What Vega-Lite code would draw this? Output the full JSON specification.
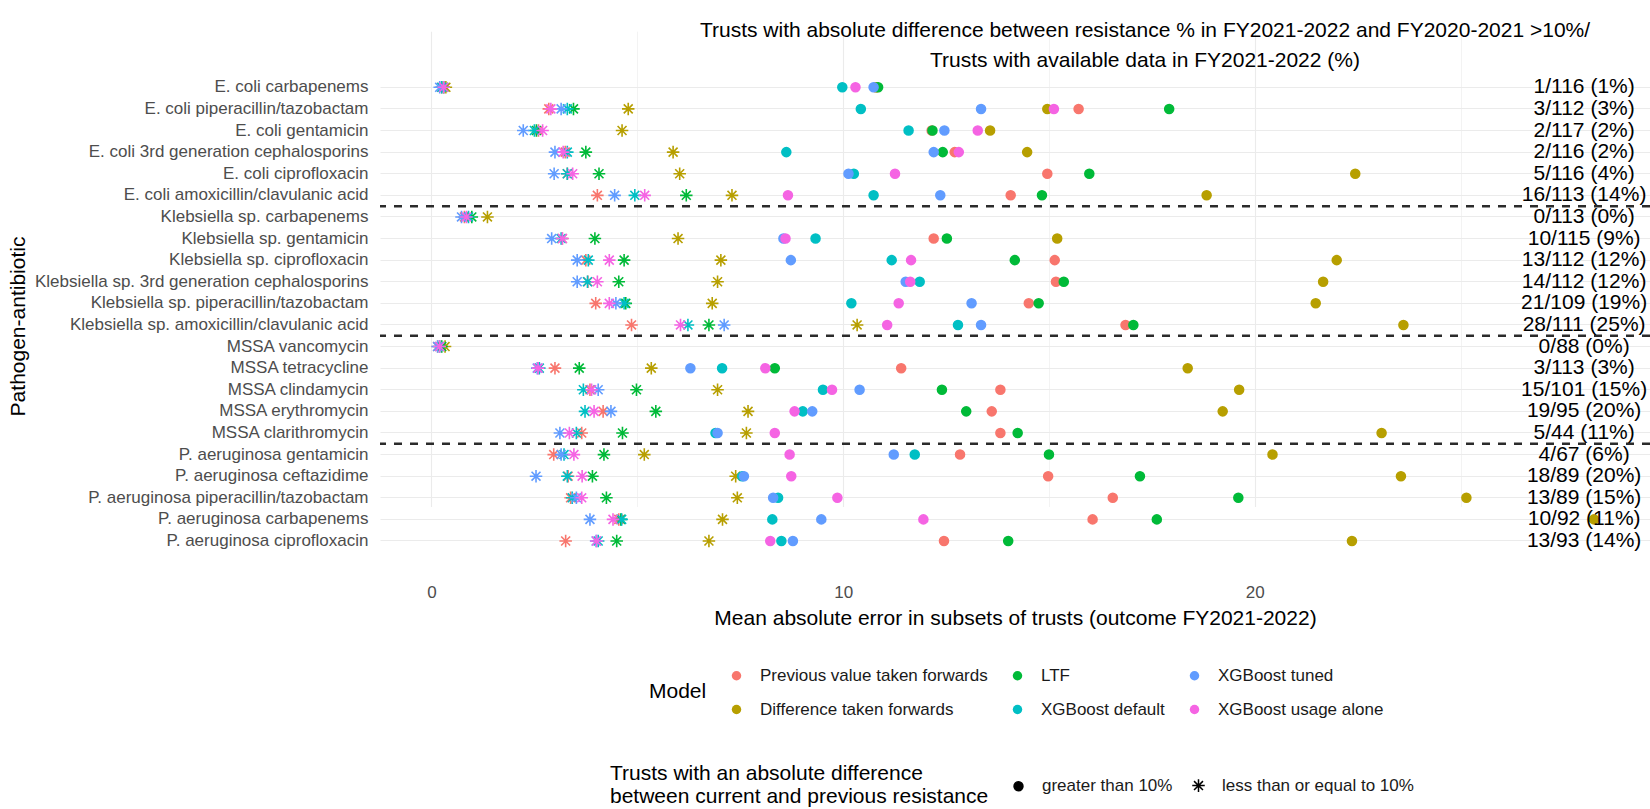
{
  "$schema": "https://vega.github.io/schema/vega-lite/v6.json",
  "width": 1270,
  "height": 563,
  "autosize": {"type": "none"},
  "padding": {"left": 380, "top": 10, "right": 0, "bottom": 236},
  "background": "white",
  "config": {
    "font": "Liberation Sans",
    "view": {"stroke": null},
    "axis": {"titleFontWeight": "normal", "titleColor": "#000000", "labelColor": "#4D4D4D"},
    "legend": {"titleFontWeight": "normal", "titleColor": "#000000", "labelColor": "#1A1A1A", "labelLimit": 400, "titleLimit": 500}
  },
  "title": {
    "text": ["Trusts with absolute difference between resistance % in FY2021-2022 and FY2020-2021 >10%/", "Trusts with available data in FY2021-2022 (%)"],
    "fontSize": 21,
    "fontWeight": "normal",
    "color": "#000000",
    "anchor": "middle",
    "frame": "group",
    "orient": "top",
    "baseline": "top",
    "offset": 0,
    "dx": 130,
    "dy": 61,
    "lineHeight": 30,
    "align": "center",
    "limit": 1200
  },
  "datasets": {
    "seps": [
      {"pa": "E. coli amoxicillin/clavulanic acid"},
      {"pa": "Klebsiella sp. amoxicillin/clavulanic acid"},
      {"pa": "MSSA clarithromycin"}
    ],
    "labels": [
      {"pa": "E. coli carbapenems", "label": "1/116 (1%)"},
      {"pa": "E. coli piperacillin/tazobactam", "label": "3/112 (3%)"},
      {"pa": "E. coli gentamicin", "label": "2/117 (2%)"},
      {"pa": "E. coli 3rd generation cephalosporins", "label": "2/116 (2%)"},
      {"pa": "E. coli ciprofloxacin", "label": "5/116 (4%)"},
      {"pa": "E. coli amoxicillin/clavulanic acid", "label": "16/113 (14%)"},
      {"pa": "Klebsiella sp. carbapenems", "label": "0/113 (0%)"},
      {"pa": "Klebsiella sp. gentamicin", "label": "10/115 (9%)"},
      {"pa": "Klebsiella sp. ciprofloxacin", "label": "13/112 (12%)"},
      {"pa": "Klebsiella sp. 3rd generation cephalosporins", "label": "14/112 (12%)"},
      {"pa": "Klebsiella sp. piperacillin/tazobactam", "label": "21/109 (19%)"},
      {"pa": "Klebsiella sp. amoxicillin/clavulanic acid", "label": "28/111 (25%)"},
      {"pa": "MSSA vancomycin", "label": "0/88 (0%)"},
      {"pa": "MSSA tetracycline", "label": "3/113 (3%)"},
      {"pa": "MSSA clindamycin", "label": "15/101 (15%)"},
      {"pa": "MSSA erythromycin", "label": "19/95 (20%)"},
      {"pa": "MSSA clarithromycin", "label": "5/44 (11%)"},
      {"pa": "P. aeruginosa gentamicin", "label": "4/67 (6%)"},
      {"pa": "P. aeruginosa ceftazidime", "label": "18/89 (20%)"},
      {"pa": "P. aeruginosa piperacillin/tazobactam", "label": "13/89 (15%)"},
      {"pa": "P. aeruginosa carbapenems", "label": "10/92 (11%)"},
      {"pa": "P. aeruginosa ciprofloxacin", "label": "13/93 (14%)"}
    ],
    "points": [
      {"pa": "E. coli carbapenems", "model": "Previous value taken forwards", "subset": "less than or equal to 10%", "mae": 0.25},
      {"pa": "E. coli carbapenems", "model": "Difference taken forwards", "subset": "less than or equal to 10%", "mae": 0.35},
      {"pa": "E. coli carbapenems", "model": "LTF", "subset": "less than or equal to 10%", "mae": 0.3},
      {"pa": "E. coli carbapenems", "model": "XGBoost default", "subset": "less than or equal to 10%", "mae": 0.25},
      {"pa": "E. coli carbapenems", "model": "XGBoost tuned", "subset": "less than or equal to 10%", "mae": 0.2},
      {"pa": "E. coli carbapenems", "model": "XGBoost usage alone", "subset": "less than or equal to 10%", "mae": 0.3},
      {"pa": "E. coli carbapenems", "model": "Previous value taken forwards", "subset": "greater than 10%", "mae": 10.8},
      {"pa": "E. coli carbapenems", "model": "Difference taken forwards", "subset": "greater than 10%", "mae": 10.8},
      {"pa": "E. coli carbapenems", "model": "LTF", "subset": "greater than 10%", "mae": 10.85},
      {"pa": "E. coli carbapenems", "model": "XGBoost default", "subset": "greater than 10%", "mae": 9.98},
      {"pa": "E. coli carbapenems", "model": "XGBoost tuned", "subset": "greater than 10%", "mae": 10.74},
      {"pa": "E. coli carbapenems", "model": "XGBoost usage alone", "subset": "greater than 10%", "mae": 10.3},

      {"pa": "E. coli piperacillin/tazobactam", "model": "Previous value taken forwards", "subset": "less than or equal to 10%", "mae": 2.85},
      {"pa": "E. coli piperacillin/tazobactam", "model": "Difference taken forwards", "subset": "less than or equal to 10%", "mae": 4.78},
      {"pa": "E. coli piperacillin/tazobactam", "model": "LTF", "subset": "less than or equal to 10%", "mae": 3.45},
      {"pa": "E. coli piperacillin/tazobactam", "model": "XGBoost default", "subset": "less than or equal to 10%", "mae": 3.3},
      {"pa": "E. coli piperacillin/tazobactam", "model": "XGBoost tuned", "subset": "less than or equal to 10%", "mae": 3.15},
      {"pa": "E. coli piperacillin/tazobactam", "model": "XGBoost usage alone", "subset": "less than or equal to 10%", "mae": 2.9},
      {"pa": "E. coli piperacillin/tazobactam", "model": "Previous value taken forwards", "subset": "greater than 10%", "mae": 15.72},
      {"pa": "E. coli piperacillin/tazobactam", "model": "Difference taken forwards", "subset": "greater than 10%", "mae": 14.96},
      {"pa": "E. coli piperacillin/tazobactam", "model": "LTF", "subset": "greater than 10%", "mae": 17.92},
      {"pa": "E. coli piperacillin/tazobactam", "model": "XGBoost default", "subset": "greater than 10%", "mae": 10.43},
      {"pa": "E. coli piperacillin/tazobactam", "model": "XGBoost tuned", "subset": "greater than 10%", "mae": 13.35},
      {"pa": "E. coli piperacillin/tazobactam", "model": "XGBoost usage alone", "subset": "greater than 10%", "mae": 15.12},

      {"pa": "E. coli gentamicin", "model": "Previous value taken forwards", "subset": "less than or equal to 10%", "mae": 2.6},
      {"pa": "E. coli gentamicin", "model": "Difference taken forwards", "subset": "less than or equal to 10%", "mae": 4.63},
      {"pa": "E. coli gentamicin", "model": "LTF", "subset": "less than or equal to 10%", "mae": 2.55},
      {"pa": "E. coli gentamicin", "model": "XGBoost default", "subset": "less than or equal to 10%", "mae": 2.5},
      {"pa": "E. coli gentamicin", "model": "XGBoost tuned", "subset": "less than or equal to 10%", "mae": 2.23},
      {"pa": "E. coli gentamicin", "model": "XGBoost usage alone", "subset": "less than or equal to 10%", "mae": 2.7},
      {"pa": "E. coli gentamicin", "model": "Previous value taken forwards", "subset": "greater than 10%", "mae": 12.15},
      {"pa": "E. coli gentamicin", "model": "Difference taken forwards", "subset": "greater than 10%", "mae": 13.57},
      {"pa": "E. coli gentamicin", "model": "LTF", "subset": "greater than 10%", "mae": 12.17},
      {"pa": "E. coli gentamicin", "model": "XGBoost default", "subset": "greater than 10%", "mae": 11.59},
      {"pa": "E. coli gentamicin", "model": "XGBoost tuned", "subset": "greater than 10%", "mae": 12.46},
      {"pa": "E. coli gentamicin", "model": "XGBoost usage alone", "subset": "greater than 10%", "mae": 13.27},

      {"pa": "E. coli 3rd generation cephalosporins", "model": "Previous value taken forwards", "subset": "less than or equal to 10%", "mae": 3.25},
      {"pa": "E. coli 3rd generation cephalosporins", "model": "Difference taken forwards", "subset": "less than or equal to 10%", "mae": 5.87},
      {"pa": "E. coli 3rd generation cephalosporins", "model": "LTF", "subset": "less than or equal to 10%", "mae": 3.75},
      {"pa": "E. coli 3rd generation cephalosporins", "model": "XGBoost default", "subset": "less than or equal to 10%", "mae": 3.3},
      {"pa": "E. coli 3rd generation cephalosporins", "model": "XGBoost tuned", "subset": "less than or equal to 10%", "mae": 3.0},
      {"pa": "E. coli 3rd generation cephalosporins", "model": "XGBoost usage alone", "subset": "less than or equal to 10%", "mae": 3.2},
      {"pa": "E. coli 3rd generation cephalosporins", "model": "Previous value taken forwards", "subset": "greater than 10%", "mae": 12.71},
      {"pa": "E. coli 3rd generation cephalosporins", "model": "Difference taken forwards", "subset": "greater than 10%", "mae": 14.47},
      {"pa": "E. coli 3rd generation cephalosporins", "model": "LTF", "subset": "greater than 10%", "mae": 12.42},
      {"pa": "E. coli 3rd generation cephalosporins", "model": "XGBoost default", "subset": "greater than 10%", "mae": 8.62},
      {"pa": "E. coli 3rd generation cephalosporins", "model": "XGBoost tuned", "subset": "greater than 10%", "mae": 12.2},
      {"pa": "E. coli 3rd generation cephalosporins", "model": "XGBoost usage alone", "subset": "greater than 10%", "mae": 12.81},

      {"pa": "E. coli ciprofloxacin", "model": "Previous value taken forwards", "subset": "less than or equal to 10%", "mae": 3.3},
      {"pa": "E. coli ciprofloxacin", "model": "Difference taken forwards", "subset": "less than or equal to 10%", "mae": 6.03},
      {"pa": "E. coli ciprofloxacin", "model": "LTF", "subset": "less than or equal to 10%", "mae": 4.07},
      {"pa": "E. coli ciprofloxacin", "model": "XGBoost default", "subset": "less than or equal to 10%", "mae": 3.3},
      {"pa": "E. coli ciprofloxacin", "model": "XGBoost tuned", "subset": "less than or equal to 10%", "mae": 2.98},
      {"pa": "E. coli ciprofloxacin", "model": "XGBoost usage alone", "subset": "less than or equal to 10%", "mae": 3.43},
      {"pa": "E. coli ciprofloxacin", "model": "Previous value taken forwards", "subset": "greater than 10%", "mae": 14.96},
      {"pa": "E. coli ciprofloxacin", "model": "Difference taken forwards", "subset": "greater than 10%", "mae": 22.44},
      {"pa": "E. coli ciprofloxacin", "model": "LTF", "subset": "greater than 10%", "mae": 15.98},
      {"pa": "E. coli ciprofloxacin", "model": "XGBoost default", "subset": "greater than 10%", "mae": 10.26},
      {"pa": "E. coli ciprofloxacin", "model": "XGBoost tuned", "subset": "greater than 10%", "mae": 10.13},
      {"pa": "E. coli ciprofloxacin", "model": "XGBoost usage alone", "subset": "greater than 10%", "mae": 11.26},

      {"pa": "E. coli amoxicillin/clavulanic acid", "model": "Previous value taken forwards", "subset": "less than or equal to 10%", "mae": 4.03},
      {"pa": "E. coli amoxicillin/clavulanic acid", "model": "Difference taken forwards", "subset": "less than or equal to 10%", "mae": 7.3},
      {"pa": "E. coli amoxicillin/clavulanic acid", "model": "LTF", "subset": "less than or equal to 10%", "mae": 6.19},
      {"pa": "E. coli amoxicillin/clavulanic acid", "model": "XGBoost default", "subset": "less than or equal to 10%", "mae": 4.94},
      {"pa": "E. coli amoxicillin/clavulanic acid", "model": "XGBoost tuned", "subset": "less than or equal to 10%", "mae": 4.45},
      {"pa": "E. coli amoxicillin/clavulanic acid", "model": "XGBoost usage alone", "subset": "less than or equal to 10%", "mae": 5.18},
      {"pa": "E. coli amoxicillin/clavulanic acid", "model": "Previous value taken forwards", "subset": "greater than 10%", "mae": 14.07},
      {"pa": "E. coli amoxicillin/clavulanic acid", "model": "Difference taken forwards", "subset": "greater than 10%", "mae": 18.83},
      {"pa": "E. coli amoxicillin/clavulanic acid", "model": "LTF", "subset": "greater than 10%", "mae": 14.83},
      {"pa": "E. coli amoxicillin/clavulanic acid", "model": "XGBoost default", "subset": "greater than 10%", "mae": 10.74},
      {"pa": "E. coli amoxicillin/clavulanic acid", "model": "XGBoost tuned", "subset": "greater than 10%", "mae": 12.36},
      {"pa": "E. coli amoxicillin/clavulanic acid", "model": "XGBoost usage alone", "subset": "greater than 10%", "mae": 8.66},

      {"pa": "Klebsiella sp. carbapenems", "model": "Previous value taken forwards", "subset": "less than or equal to 10%", "mae": 0.8},
      {"pa": "Klebsiella sp. carbapenems", "model": "Difference taken forwards", "subset": "less than or equal to 10%", "mae": 1.36},
      {"pa": "Klebsiella sp. carbapenems", "model": "LTF", "subset": "less than or equal to 10%", "mae": 0.98},
      {"pa": "Klebsiella sp. carbapenems", "model": "XGBoost default", "subset": "less than or equal to 10%", "mae": 0.9},
      {"pa": "Klebsiella sp. carbapenems", "model": "XGBoost tuned", "subset": "less than or equal to 10%", "mae": 0.73},
      {"pa": "Klebsiella sp. carbapenems", "model": "XGBoost usage alone", "subset": "less than or equal to 10%", "mae": 0.85},

      {"pa": "Klebsiella sp. gentamicin", "model": "Previous value taken forwards", "subset": "less than or equal to 10%", "mae": 3.18},
      {"pa": "Klebsiella sp. gentamicin", "model": "Difference taken forwards", "subset": "less than or equal to 10%", "mae": 5.99},
      {"pa": "Klebsiella sp. gentamicin", "model": "LTF", "subset": "less than or equal to 10%", "mae": 3.97},
      {"pa": "Klebsiella sp. gentamicin", "model": "XGBoost default", "subset": "less than or equal to 10%", "mae": 3.15},
      {"pa": "Klebsiella sp. gentamicin", "model": "XGBoost tuned", "subset": "less than or equal to 10%", "mae": 2.92},
      {"pa": "Klebsiella sp. gentamicin", "model": "XGBoost usage alone", "subset": "less than or equal to 10%", "mae": 3.18},
      {"pa": "Klebsiella sp. gentamicin", "model": "Previous value taken forwards", "subset": "greater than 10%", "mae": 12.2},
      {"pa": "Klebsiella sp. gentamicin", "model": "Difference taken forwards", "subset": "greater than 10%", "mae": 15.2},
      {"pa": "Klebsiella sp. gentamicin", "model": "LTF", "subset": "greater than 10%", "mae": 12.52},
      {"pa": "Klebsiella sp. gentamicin", "model": "XGBoost default", "subset": "greater than 10%", "mae": 9.33},
      {"pa": "Klebsiella sp. gentamicin", "model": "XGBoost tuned", "subset": "greater than 10%", "mae": 8.55},
      {"pa": "Klebsiella sp. gentamicin", "model": "XGBoost usage alone", "subset": "greater than 10%", "mae": 8.6},

      {"pa": "Klebsiella sp. ciprofloxacin", "model": "Previous value taken forwards", "subset": "less than or equal to 10%", "mae": 3.75},
      {"pa": "Klebsiella sp. ciprofloxacin", "model": "Difference taken forwards", "subset": "less than or equal to 10%", "mae": 7.03},
      {"pa": "Klebsiella sp. ciprofloxacin", "model": "LTF", "subset": "less than or equal to 10%", "mae": 4.68},
      {"pa": "Klebsiella sp. ciprofloxacin", "model": "XGBoost default", "subset": "less than or equal to 10%", "mae": 3.81},
      {"pa": "Klebsiella sp. ciprofloxacin", "model": "XGBoost tuned", "subset": "less than or equal to 10%", "mae": 3.54},
      {"pa": "Klebsiella sp. ciprofloxacin", "model": "XGBoost usage alone", "subset": "less than or equal to 10%", "mae": 4.32},
      {"pa": "Klebsiella sp. ciprofloxacin", "model": "Previous value taken forwards", "subset": "greater than 10%", "mae": 15.14},
      {"pa": "Klebsiella sp. ciprofloxacin", "model": "Difference taken forwards", "subset": "greater than 10%", "mae": 21.99},
      {"pa": "Klebsiella sp. ciprofloxacin", "model": "LTF", "subset": "greater than 10%", "mae": 14.17},
      {"pa": "Klebsiella sp. ciprofloxacin", "model": "XGBoost default", "subset": "greater than 10%", "mae": 11.18},
      {"pa": "Klebsiella sp. ciprofloxacin", "model": "XGBoost tuned", "subset": "greater than 10%", "mae": 8.73},
      {"pa": "Klebsiella sp. ciprofloxacin", "model": "XGBoost usage alone", "subset": "greater than 10%", "mae": 11.65},

      {"pa": "Klebsiella sp. 3rd generation cephalosporins", "model": "Previous value taken forwards", "subset": "less than or equal to 10%", "mae": 3.8},
      {"pa": "Klebsiella sp. 3rd generation cephalosporins", "model": "Difference taken forwards", "subset": "less than or equal to 10%", "mae": 6.95},
      {"pa": "Klebsiella sp. 3rd generation cephalosporins", "model": "LTF", "subset": "less than or equal to 10%", "mae": 4.55},
      {"pa": "Klebsiella sp. 3rd generation cephalosporins", "model": "XGBoost default", "subset": "less than or equal to 10%", "mae": 3.79},
      {"pa": "Klebsiella sp. 3rd generation cephalosporins", "model": "XGBoost tuned", "subset": "less than or equal to 10%", "mae": 3.54},
      {"pa": "Klebsiella sp. 3rd generation cephalosporins", "model": "XGBoost usage alone", "subset": "less than or equal to 10%", "mae": 4.03},
      {"pa": "Klebsiella sp. 3rd generation cephalosporins", "model": "Previous value taken forwards", "subset": "greater than 10%", "mae": 15.17},
      {"pa": "Klebsiella sp. 3rd generation cephalosporins", "model": "Difference taken forwards", "subset": "greater than 10%", "mae": 21.66},
      {"pa": "Klebsiella sp. 3rd generation cephalosporins", "model": "LTF", "subset": "greater than 10%", "mae": 15.36},
      {"pa": "Klebsiella sp. 3rd generation cephalosporins", "model": "XGBoost default", "subset": "greater than 10%", "mae": 11.86},
      {"pa": "Klebsiella sp. 3rd generation cephalosporins", "model": "XGBoost tuned", "subset": "greater than 10%", "mae": 11.52},
      {"pa": "Klebsiella sp. 3rd generation cephalosporins", "model": "XGBoost usage alone", "subset": "greater than 10%", "mae": 11.63},

      {"pa": "Klebsiella sp. piperacillin/tazobactam", "model": "Previous value taken forwards", "subset": "less than or equal to 10%", "mae": 3.99},
      {"pa": "Klebsiella sp. piperacillin/tazobactam", "model": "Difference taken forwards", "subset": "less than or equal to 10%", "mae": 6.82},
      {"pa": "Klebsiella sp. piperacillin/tazobactam", "model": "LTF", "subset": "less than or equal to 10%", "mae": 4.72},
      {"pa": "Klebsiella sp. piperacillin/tazobactam", "model": "XGBoost default", "subset": "less than or equal to 10%", "mae": 4.68},
      {"pa": "Klebsiella sp. piperacillin/tazobactam", "model": "XGBoost tuned", "subset": "less than or equal to 10%", "mae": 4.48},
      {"pa": "Klebsiella sp. piperacillin/tazobactam", "model": "XGBoost usage alone", "subset": "less than or equal to 10%", "mae": 4.32},
      {"pa": "Klebsiella sp. piperacillin/tazobactam", "model": "Previous value taken forwards", "subset": "greater than 10%", "mae": 14.51},
      {"pa": "Klebsiella sp. piperacillin/tazobactam", "model": "Difference taken forwards", "subset": "greater than 10%", "mae": 21.48},
      {"pa": "Klebsiella sp. piperacillin/tazobactam", "model": "LTF", "subset": "greater than 10%", "mae": 14.75},
      {"pa": "Klebsiella sp. piperacillin/tazobactam", "model": "XGBoost default", "subset": "greater than 10%", "mae": 10.2},
      {"pa": "Klebsiella sp. piperacillin/tazobactam", "model": "XGBoost tuned", "subset": "greater than 10%", "mae": 13.12},
      {"pa": "Klebsiella sp. piperacillin/tazobactam", "model": "XGBoost usage alone", "subset": "greater than 10%", "mae": 11.35},

      {"pa": "Klebsiella sp. amoxicillin/clavulanic acid", "model": "Previous value taken forwards", "subset": "less than or equal to 10%", "mae": 4.86},
      {"pa": "Klebsiella sp. amoxicillin/clavulanic acid", "model": "Difference taken forwards", "subset": "less than or equal to 10%", "mae": 10.34},
      {"pa": "Klebsiella sp. amoxicillin/clavulanic acid", "model": "LTF", "subset": "less than or equal to 10%", "mae": 6.74},
      {"pa": "Klebsiella sp. amoxicillin/clavulanic acid", "model": "XGBoost default", "subset": "less than or equal to 10%", "mae": 6.23},
      {"pa": "Klebsiella sp. amoxicillin/clavulanic acid", "model": "XGBoost tuned", "subset": "less than or equal to 10%", "mae": 7.11},
      {"pa": "Klebsiella sp. amoxicillin/clavulanic acid", "model": "XGBoost usage alone", "subset": "less than or equal to 10%", "mae": 6.05},
      {"pa": "Klebsiella sp. amoxicillin/clavulanic acid", "model": "Previous value taken forwards", "subset": "greater than 10%", "mae": 16.86},
      {"pa": "Klebsiella sp. amoxicillin/clavulanic acid", "model": "Difference taken forwards", "subset": "greater than 10%", "mae": 23.61},
      {"pa": "Klebsiella sp. amoxicillin/clavulanic acid", "model": "LTF", "subset": "greater than 10%", "mae": 17.05},
      {"pa": "Klebsiella sp. amoxicillin/clavulanic acid", "model": "XGBoost default", "subset": "greater than 10%", "mae": 12.79},
      {"pa": "Klebsiella sp. amoxicillin/clavulanic acid", "model": "XGBoost tuned", "subset": "greater than 10%", "mae": 13.35},
      {"pa": "Klebsiella sp. amoxicillin/clavulanic acid", "model": "XGBoost usage alone", "subset": "greater than 10%", "mae": 11.07},

      {"pa": "MSSA vancomycin", "model": "Previous value taken forwards", "subset": "less than or equal to 10%", "mae": 0.15},
      {"pa": "MSSA vancomycin", "model": "Difference taken forwards", "subset": "less than or equal to 10%", "mae": 0.33},
      {"pa": "MSSA vancomycin", "model": "LTF", "subset": "less than or equal to 10%", "mae": 0.25},
      {"pa": "MSSA vancomycin", "model": "XGBoost default", "subset": "less than or equal to 10%", "mae": 0.2},
      {"pa": "MSSA vancomycin", "model": "XGBoost tuned", "subset": "less than or equal to 10%", "mae": 0.15},
      {"pa": "MSSA vancomycin", "model": "XGBoost usage alone", "subset": "less than or equal to 10%", "mae": 0.2},

      {"pa": "MSSA tetracycline", "model": "Previous value taken forwards", "subset": "less than or equal to 10%", "mae": 3.0},
      {"pa": "MSSA tetracycline", "model": "Difference taken forwards", "subset": "less than or equal to 10%", "mae": 5.34},
      {"pa": "MSSA tetracycline", "model": "LTF", "subset": "less than or equal to 10%", "mae": 3.59},
      {"pa": "MSSA tetracycline", "model": "XGBoost default", "subset": "less than or equal to 10%", "mae": 2.62},
      {"pa": "MSSA tetracycline", "model": "XGBoost tuned", "subset": "less than or equal to 10%", "mae": 2.57},
      {"pa": "MSSA tetracycline", "model": "XGBoost usage alone", "subset": "less than or equal to 10%", "mae": 2.59},
      {"pa": "MSSA tetracycline", "model": "Previous value taken forwards", "subset": "greater than 10%", "mae": 11.41},
      {"pa": "MSSA tetracycline", "model": "Difference taken forwards", "subset": "greater than 10%", "mae": 18.37},
      {"pa": "MSSA tetracycline", "model": "LTF", "subset": "greater than 10%", "mae": 8.34},
      {"pa": "MSSA tetracycline", "model": "XGBoost default", "subset": "greater than 10%", "mae": 7.06},
      {"pa": "MSSA tetracycline", "model": "XGBoost tuned", "subset": "greater than 10%", "mae": 6.29},
      {"pa": "MSSA tetracycline", "model": "XGBoost usage alone", "subset": "greater than 10%", "mae": 8.11},

      {"pa": "MSSA clindamycin", "model": "Previous value taken forwards", "subset": "less than or equal to 10%", "mae": 3.85},
      {"pa": "MSSA clindamycin", "model": "Difference taken forwards", "subset": "less than or equal to 10%", "mae": 6.95},
      {"pa": "MSSA clindamycin", "model": "LTF", "subset": "less than or equal to 10%", "mae": 4.98},
      {"pa": "MSSA clindamycin", "model": "XGBoost default", "subset": "less than or equal to 10%", "mae": 3.69},
      {"pa": "MSSA clindamycin", "model": "XGBoost tuned", "subset": "less than or equal to 10%", "mae": 4.05},
      {"pa": "MSSA clindamycin", "model": "XGBoost usage alone", "subset": "less than or equal to 10%", "mae": 3.89},
      {"pa": "MSSA clindamycin", "model": "Previous value taken forwards", "subset": "greater than 10%", "mae": 13.82},
      {"pa": "MSSA clindamycin", "model": "Difference taken forwards", "subset": "greater than 10%", "mae": 19.62},
      {"pa": "MSSA clindamycin", "model": "LTF", "subset": "greater than 10%", "mae": 12.4},
      {"pa": "MSSA clindamycin", "model": "XGBoost default", "subset": "greater than 10%", "mae": 9.51},
      {"pa": "MSSA clindamycin", "model": "XGBoost tuned", "subset": "greater than 10%", "mae": 10.4},
      {"pa": "MSSA clindamycin", "model": "XGBoost usage alone", "subset": "greater than 10%", "mae": 9.73},

      {"pa": "MSSA erythromycin", "model": "Previous value taken forwards", "subset": "less than or equal to 10%", "mae": 4.17},
      {"pa": "MSSA erythromycin", "model": "Difference taken forwards", "subset": "less than or equal to 10%", "mae": 7.69},
      {"pa": "MSSA erythromycin", "model": "LTF", "subset": "less than or equal to 10%", "mae": 5.45},
      {"pa": "MSSA erythromycin", "model": "XGBoost default", "subset": "less than or equal to 10%", "mae": 3.73},
      {"pa": "MSSA erythromycin", "model": "XGBoost tuned", "subset": "less than or equal to 10%", "mae": 4.36},
      {"pa": "MSSA erythromycin", "model": "XGBoost usage alone", "subset": "less than or equal to 10%", "mae": 3.95},
      {"pa": "MSSA erythromycin", "model": "Previous value taken forwards", "subset": "greater than 10%", "mae": 13.61},
      {"pa": "MSSA erythromycin", "model": "Difference taken forwards", "subset": "greater than 10%", "mae": 19.22},
      {"pa": "MSSA erythromycin", "model": "LTF", "subset": "greater than 10%", "mae": 12.99},
      {"pa": "MSSA erythromycin", "model": "XGBoost default", "subset": "greater than 10%", "mae": 9.02},
      {"pa": "MSSA erythromycin", "model": "XGBoost tuned", "subset": "greater than 10%", "mae": 9.25},
      {"pa": "MSSA erythromycin", "model": "XGBoost usage alone", "subset": "greater than 10%", "mae": 8.82},

      {"pa": "MSSA clarithromycin", "model": "Previous value taken forwards", "subset": "less than or equal to 10%", "mae": 3.65},
      {"pa": "MSSA clarithromycin", "model": "Difference taken forwards", "subset": "less than or equal to 10%", "mae": 7.65},
      {"pa": "MSSA clarithromycin", "model": "LTF", "subset": "less than or equal to 10%", "mae": 4.64},
      {"pa": "MSSA clarithromycin", "model": "XGBoost default", "subset": "less than or equal to 10%", "mae": 3.52},
      {"pa": "MSSA clarithromycin", "model": "XGBoost tuned", "subset": "less than or equal to 10%", "mae": 3.12},
      {"pa": "MSSA clarithromycin", "model": "XGBoost usage alone", "subset": "less than or equal to 10%", "mae": 3.35},
      {"pa": "MSSA clarithromycin", "model": "Previous value taken forwards", "subset": "greater than 10%", "mae": 13.82},
      {"pa": "MSSA clarithromycin", "model": "Difference taken forwards", "subset": "greater than 10%", "mae": 23.08},
      {"pa": "MSSA clarithromycin", "model": "LTF", "subset": "greater than 10%", "mae": 14.24},
      {"pa": "MSSA clarithromycin", "model": "XGBoost default", "subset": "greater than 10%", "mae": 6.9},
      {"pa": "MSSA clarithromycin", "model": "XGBoost tuned", "subset": "greater than 10%", "mae": 6.95},
      {"pa": "MSSA clarithromycin", "model": "XGBoost usage alone", "subset": "greater than 10%", "mae": 8.34},

      {"pa": "P. aeruginosa gentamicin", "model": "Previous value taken forwards", "subset": "less than or equal to 10%", "mae": 2.97},
      {"pa": "P. aeruginosa gentamicin", "model": "Difference taken forwards", "subset": "less than or equal to 10%", "mae": 5.17},
      {"pa": "P. aeruginosa gentamicin", "model": "LTF", "subset": "less than or equal to 10%", "mae": 4.19},
      {"pa": "P. aeruginosa gentamicin", "model": "XGBoost default", "subset": "less than or equal to 10%", "mae": 3.22},
      {"pa": "P. aeruginosa gentamicin", "model": "XGBoost tuned", "subset": "less than or equal to 10%", "mae": 3.15},
      {"pa": "P. aeruginosa gentamicin", "model": "XGBoost usage alone", "subset": "less than or equal to 10%", "mae": 3.46},
      {"pa": "P. aeruginosa gentamicin", "model": "Previous value taken forwards", "subset": "greater than 10%", "mae": 12.84},
      {"pa": "P. aeruginosa gentamicin", "model": "Difference taken forwards", "subset": "greater than 10%", "mae": 20.43},
      {"pa": "P. aeruginosa gentamicin", "model": "LTF", "subset": "greater than 10%", "mae": 15.0},
      {"pa": "P. aeruginosa gentamicin", "model": "XGBoost default", "subset": "greater than 10%", "mae": 11.74},
      {"pa": "P. aeruginosa gentamicin", "model": "XGBoost tuned", "subset": "greater than 10%", "mae": 11.23},
      {"pa": "P. aeruginosa gentamicin", "model": "XGBoost usage alone", "subset": "greater than 10%", "mae": 8.7},

      {"pa": "P. aeruginosa ceftazidime", "model": "Previous value taken forwards", "subset": "less than or equal to 10%", "mae": 3.32},
      {"pa": "P. aeruginosa ceftazidime", "model": "Difference taken forwards", "subset": "less than or equal to 10%", "mae": 7.39},
      {"pa": "P. aeruginosa ceftazidime", "model": "LTF", "subset": "less than or equal to 10%", "mae": 3.91},
      {"pa": "P. aeruginosa ceftazidime", "model": "XGBoost default", "subset": "less than or equal to 10%", "mae": 3.3},
      {"pa": "P. aeruginosa ceftazidime", "model": "XGBoost tuned", "subset": "less than or equal to 10%", "mae": 2.54},
      {"pa": "P. aeruginosa ceftazidime", "model": "XGBoost usage alone", "subset": "less than or equal to 10%", "mae": 3.66},
      {"pa": "P. aeruginosa ceftazidime", "model": "Previous value taken forwards", "subset": "greater than 10%", "mae": 14.98},
      {"pa": "P. aeruginosa ceftazidime", "model": "Difference taken forwards", "subset": "greater than 10%", "mae": 23.55},
      {"pa": "P. aeruginosa ceftazidime", "model": "LTF", "subset": "greater than 10%", "mae": 17.21},
      {"pa": "P. aeruginosa ceftazidime", "model": "XGBoost default", "subset": "greater than 10%", "mae": 7.55},
      {"pa": "P. aeruginosa ceftazidime", "model": "XGBoost tuned", "subset": "greater than 10%", "mae": 7.59},
      {"pa": "P. aeruginosa ceftazidime", "model": "XGBoost usage alone", "subset": "greater than 10%", "mae": 8.74},

      {"pa": "P. aeruginosa piperacillin/tazobactam", "model": "Previous value taken forwards", "subset": "less than or equal to 10%", "mae": 3.38},
      {"pa": "P. aeruginosa piperacillin/tazobactam", "model": "Difference taken forwards", "subset": "less than or equal to 10%", "mae": 7.43},
      {"pa": "P. aeruginosa piperacillin/tazobactam", "model": "LTF", "subset": "less than or equal to 10%", "mae": 4.25},
      {"pa": "P. aeruginosa piperacillin/tazobactam", "model": "XGBoost default", "subset": "less than or equal to 10%", "mae": 3.42},
      {"pa": "P. aeruginosa piperacillin/tazobactam", "model": "XGBoost tuned", "subset": "less than or equal to 10%", "mae": 3.52},
      {"pa": "P. aeruginosa piperacillin/tazobactam", "model": "XGBoost usage alone", "subset": "less than or equal to 10%", "mae": 3.65},
      {"pa": "P. aeruginosa piperacillin/tazobactam", "model": "Previous value taken forwards", "subset": "greater than 10%", "mae": 16.55},
      {"pa": "P. aeruginosa piperacillin/tazobactam", "model": "Difference taken forwards", "subset": "greater than 10%", "mae": 25.14},
      {"pa": "P. aeruginosa piperacillin/tazobactam", "model": "LTF", "subset": "greater than 10%", "mae": 19.6},
      {"pa": "P. aeruginosa piperacillin/tazobactam", "model": "XGBoost default", "subset": "greater than 10%", "mae": 8.42},
      {"pa": "P. aeruginosa piperacillin/tazobactam", "model": "XGBoost tuned", "subset": "greater than 10%", "mae": 8.3},
      {"pa": "P. aeruginosa piperacillin/tazobactam", "model": "XGBoost usage alone", "subset": "greater than 10%", "mae": 9.86},

      {"pa": "P. aeruginosa carbapenems", "model": "Previous value taken forwards", "subset": "less than or equal to 10%", "mae": 4.55},
      {"pa": "P. aeruginosa carbapenems", "model": "Difference taken forwards", "subset": "less than or equal to 10%", "mae": 7.07},
      {"pa": "P. aeruginosa carbapenems", "model": "LTF", "subset": "less than or equal to 10%", "mae": 4.6},
      {"pa": "P. aeruginosa carbapenems", "model": "XGBoost default", "subset": "less than or equal to 10%", "mae": 4.62},
      {"pa": "P. aeruginosa carbapenems", "model": "XGBoost tuned", "subset": "less than or equal to 10%", "mae": 3.85},
      {"pa": "P. aeruginosa carbapenems", "model": "XGBoost usage alone", "subset": "less than or equal to 10%", "mae": 4.41},
      {"pa": "P. aeruginosa carbapenems", "model": "Previous value taken forwards", "subset": "greater than 10%", "mae": 16.06},
      {"pa": "P. aeruginosa carbapenems", "model": "Difference taken forwards", "subset": "greater than 10%", "mae": 28.24},
      {"pa": "P. aeruginosa carbapenems", "model": "LTF", "subset": "greater than 10%", "mae": 17.62},
      {"pa": "P. aeruginosa carbapenems", "model": "XGBoost default", "subset": "greater than 10%", "mae": 8.28},
      {"pa": "P. aeruginosa carbapenems", "model": "XGBoost tuned", "subset": "greater than 10%", "mae": 9.47},
      {"pa": "P. aeruginosa carbapenems", "model": "XGBoost usage alone", "subset": "greater than 10%", "mae": 11.95},

      {"pa": "P. aeruginosa ciprofloxacin", "model": "Previous value taken forwards", "subset": "less than or equal to 10%", "mae": 3.26},
      {"pa": "P. aeruginosa ciprofloxacin", "model": "Difference taken forwards", "subset": "less than or equal to 10%", "mae": 6.74},
      {"pa": "P. aeruginosa ciprofloxacin", "model": "LTF", "subset": "less than or equal to 10%", "mae": 4.5},
      {"pa": "P. aeruginosa ciprofloxacin", "model": "XGBoost default", "subset": "less than or equal to 10%", "mae": 4.05},
      {"pa": "P. aeruginosa ciprofloxacin", "model": "XGBoost tuned", "subset": "less than or equal to 10%", "mae": 4.0},
      {"pa": "P. aeruginosa ciprofloxacin", "model": "XGBoost usage alone", "subset": "less than or equal to 10%", "mae": 4.01},
      {"pa": "P. aeruginosa ciprofloxacin", "model": "Previous value taken forwards", "subset": "greater than 10%", "mae": 12.45},
      {"pa": "P. aeruginosa ciprofloxacin", "model": "Difference taken forwards", "subset": "greater than 10%", "mae": 22.36},
      {"pa": "P. aeruginosa ciprofloxacin", "model": "LTF", "subset": "greater than 10%", "mae": 14.01},
      {"pa": "P. aeruginosa ciprofloxacin", "model": "XGBoost default", "subset": "greater than 10%", "mae": 8.5},
      {"pa": "P. aeruginosa ciprofloxacin", "model": "XGBoost tuned", "subset": "greater than 10%", "mae": 8.78},
      {"pa": "P. aeruginosa ciprofloxacin", "model": "XGBoost usage alone", "subset": "greater than 10%", "mae": 8.23}
    ]
  },
  "layer": [
    {
      "data": {"name": "points"},
      "mark": {"type": "point", "filled": true, "opacity": 1, "strokeWidth": 1.6, "size": 80},
      "encoding": {
        "x": {
          "field": "mae", "type": "quantitative",
          "scale": {"domain": [-1.25, 29.6], "nice": false, "zero": false},
          "axis": {
            "values": [0, 5, 10, 15, 20, 25],
            "labelExpr": "datum.value % 10 === 0 ? datum.label : ''",
            "grid": true,
            "gridColor": "#EBEBEB",
            "gridWidth": {"condition": {"test": "datum.value % 10 === 0", "value": 1.1}, "value": 0.6},
            "ticks": false,
            "domain": false,
            "labelFontSize": 17,
            "labelPadding": 11,
            "title": "Mean absolute error in subsets of trusts (outcome FY2021-2022)",
            "titleFontSize": 21,
            "titlePadding": 7
          }
        },
        "y": {
          "field": "pa", "type": "nominal",
          "scale": {
            "type": "band",
            "domain": ["E. coli carbapenems", "E. coli piperacillin/tazobactam", "E. coli gentamicin", "E. coli 3rd generation cephalosporins", "E. coli ciprofloxacin", "E. coli amoxicillin/clavulanic acid", "Klebsiella sp. carbapenems", "Klebsiella sp. gentamicin", "Klebsiella sp. ciprofloxacin", "Klebsiella sp. 3rd generation cephalosporins", "Klebsiella sp. piperacillin/tazobactam", "Klebsiella sp. amoxicillin/clavulanic acid", "MSSA vancomycin", "MSSA tetracycline", "MSSA clindamycin", "MSSA erythromycin", "MSSA clarithromycin", "P. aeruginosa gentamicin", "P. aeruginosa ceftazidime", "P. aeruginosa piperacillin/tazobactam", "P. aeruginosa carbapenems", "P. aeruginosa ciprofloxacin"],
            "range": [66.5, 541.8],
            "paddingInner": 0,
            "paddingOuter": 0
          },
          "axis": {
            "grid": true,
            "gridColor": "#EBEBEB",
            "gridWidth": 1.1,
            "bandPosition": 0.5,
            "ticks": false,
            "domain": false,
            "labelFontSize": 17,
            "labelLimit": 400,
            "labelPadding": 12,
            "title": "Pathogen-antibiotic",
            "titleFontSize": 21,
            "titleX": -352,
            "titleY": 316
          }
        },
        "color": {
          "field": "model", "type": "nominal",
          "scale": {
            "domain": ["Previous value taken forwards", "LTF", "XGBoost tuned", "Difference taken forwards", "XGBoost default", "XGBoost usage alone"],
            "range": ["#F8766D", "#00BA38", "#619CFF", "#B79F00", "#00BFC4", "#F564E3"]
          },
          "legend": {
            "title": "Model",
            "orient": "none",
            "legendX": 269,
            "legendY": 657,
            "direction": "horizontal",
            "columns": 3,
            "titleOrient": "left",
            "titleAnchor": "middle",
            "titleBaseline": "middle",
            "titleFontSize": 21,
            "titlePadding": 21,
            "labelFontSize": 17,
            "labelOffset": 15,
            "columnPadding": 21,
            "rowPadding": 16,
            "symbolType": "circle",
            "symbolSize": 90,
            "symbolStrokeWidth": 0,
            "padding": 0
          }
        },
        "stroke": {
          "field": "model", "type": "nominal",
          "scale": {
            "domain": ["Previous value taken forwards", "LTF", "XGBoost tuned", "Difference taken forwards", "XGBoost default", "XGBoost usage alone"],
            "range": ["#F8766D", "#00BA38", "#619CFF", "#B79F00", "#00BFC4", "#F564E3"]
          },
          "legend": null
        },
        "shape": {
          "field": "subset", "type": "nominal",
          "scale": {
            "domain": ["greater than 10%", "less than or equal to 10%"],
            "range": ["circle", "M-1.4,0L1.4,0M0,-1.4L0,1.4M-1,-1L1,1M-1,1L1,-1"]
          },
          "legend": {
            "title": ["Trusts with an absolute difference", "between current and previous resistance"],
            "orient": "none",
            "legendX": 230,
            "legendY": 767,
            "direction": "horizontal",
            "titleOrient": "left",
            "titleAnchor": "middle",
            "titleBaseline": "middle",
            "titleFontSize": 21,
            "titleLineHeight": 23,
            "titlePadding": 21,
            "labelFontSize": 17,
            "labelOffset": 15,
            "columnPadding": 16,
            "symbolSize": 80,
            "symbolFillColor": "#000000",
            "symbolStrokeColor": "#000000",
            "symbolStrokeWidth": 1.5,
            "padding": 0
          }
        }
      }
    },
    {
      "data": {"name": "seps"},
      "mark": {"type": "rule", "strokeDash": [8, 8], "strokeWidth": 2.5, "color": "#2B2B2B"},
      "encoding": {
        "y": {"field": "pa", "type": "nominal", "bandPosition": 1}
      }
    },
    {
      "data": {"name": "labels"},
      "mark": {"type": "text", "fontSize": 21, "color": "#000000", "align": "center", "baseline": "middle"},
      "encoding": {
        "x": {"datum": 28},
        "y": {"field": "pa", "type": "nominal"},
        "text": {"field": "label"}
      }
    }
  ]
}
